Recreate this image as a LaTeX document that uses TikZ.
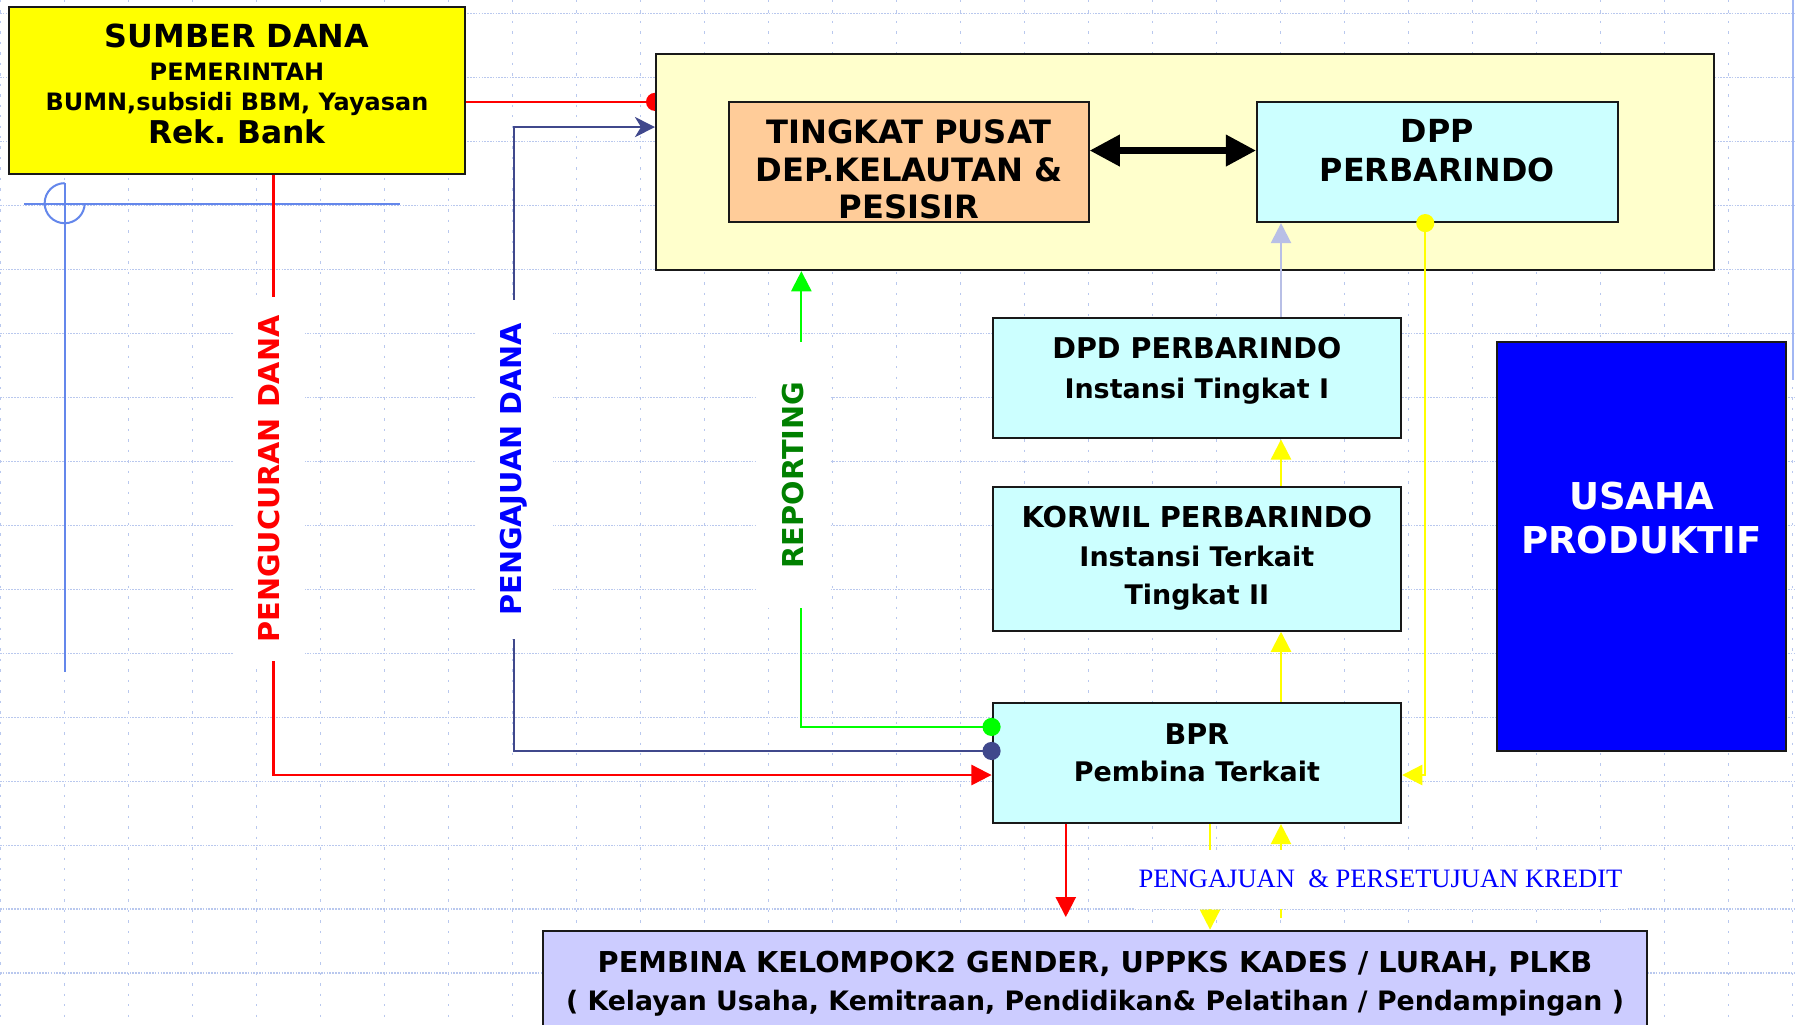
\documentclass[tikz,border=0pt]{standalone}
\usepackage{fontspec}
\setmainfont{DejaVu Sans}
\newfontfamily\serifkredit{Liberation Serif}
\usepackage{xcolor}
\usetikzlibrary{positioning,calc,arrows.meta}
\definecolor{Kuning}{RGB}{255,255,0}
\definecolor{KuningMuda}{RGB}{255,255,204}
\definecolor{Jingga}{RGB}{255,204,153}
\definecolor{Toska}{RGB}{204,255,255}
\definecolor{Ungu}{RGB}{204,204,255}
\definecolor{Biru}{RGB}{0,0,255}
\definecolor{Navy}{RGB}{64,72,140}
\definecolor{Lilak}{RGB}{184,191,230}
\definecolor{Hijau}{RGB}{0,255,0}
\definecolor{HijauTua}{RGB}{0,128,0}
\definecolor{Kisi}{RGB}{185,200,238}
\definecolor{Garis}{RGB}{100,135,235}
\pgfdeclarelayer{back}
\pgfsetlayers{back,main}
\tikzset{bulat/.tip={Circle[length=9pt,width=9pt]},
    segitiga/.tip={Triangle[length=10pt,width=10pt]}}

\begin{document}
\begin{tikzpicture}[x=0.02cm,y=-0.02cm,
    box/.style={draw=black!90,line width=1pt,inner sep=0pt},
    isi/.style={align=center,inner sep=0pt},
    tegak/.style={rotate=90,fill=white,inner ysep=0.44cm,
        font=\bfseries\fontsize{14.3}{16}\selectfont},
    alur/.style={line width=1.1pt}]
    \useasboundingbox (0,0) rectangle (1568,895);
    \clip (0,0) rectangle (1568,895);

    \begin{pgfonlayer}{back}
    \foreach \gx in {0.6,56.5,...,1568}
        \draw[Kisi,line width=0.8pt,dash pattern=on 1.2pt off 4pt] (\gx,0) -- (\gx,895);
    \foreach \gy in {11.7,67.6,...,895}
        \draw[Kisi,line width=0.8pt,dash pattern=on 0.8pt off 0.6pt] (0,\gy) -- (1568,\gy);
    \draw[Garis,line width=1pt] (21,178) -- (349,178);
    \draw[Garis,line width=1pt] (56.5,160) -- (56.5,587);
    \draw[Garis,line width=1pt] (56.5,160) arc[start angle=90,end angle=360,radius=0.35cm];
    \draw[Garis!60,line width=1.2pt] (1566,0) -- (1566,332);
    \end{pgfonlayer}

    \node[box,fill=Kuning,minimum width=7.96cm,minimum height=2.92cm] (sumber) at (207,79) {};
    \node[box,fill=KuningMuda,minimum width=18.48cm,minimum height=3.78cm] (wadah) at (1035,141.5) {};
    \node[box,fill=Jingga,minimum width=6.28cm,minimum height=2.1cm] (pusat) at (794,141.5) {};
    \node[box,fill=Toska,minimum width=6.3cm,minimum height=2.1cm] (dpp) at (1255.5,141.5) {};
    \node[box,fill=Toska,minimum width=7.14cm,minimum height=2.1cm] (dpd) at (1045.5,330.5) {};
    \node[box,fill=Toska,minimum width=7.14cm,minimum height=2.52cm] (korwil) at (1045.5,488) {};
    \node[box,fill=Toska,minimum width=7.14cm,minimum height=2.1cm] (bpr) at (1045.5,666.5) {};
    \node[box,fill=Biru,minimum width=5.04cm,minimum height=7.14cm] (usaha) at (1434,477.5) {};
    \node[box,fill=Ungu,minimum width=19.3cm,minimum height=1.8cm] (pembina) at (956.5,858) {};

    \node[isi,font=\bfseries\fontsize{11.9}{16.5}\selectfont] (sumberT) at (207,73)
        {{\fontsize{15.8}{16.5}\selectfont SUMBER DANA}\\PEMERINTAH\\[-1.7pt]BUMN,subsidi BBM, Yayasan\\{\fontsize{15.6}{16.5}\selectfont Rek.\ Bank}};
    \node[isi,font=\bfseries\fontsize{16}{18.8}\selectfont] (pusatT) at (794,148)
        {TINGKAT PUSAT\\DEP.KELAUTAN \&\\PESISIR};
    \node[isi,font=\bfseries\fontsize{15.8}{19.3}\selectfont] (dppT) at (1255.5,131.5)
        {DPP\\PERBARINDO};
    \node[isi,font=\bfseries\fontsize{13.4}{19.8}\selectfont] (dpdT) at (1045.5,323.8)
        {{\fontsize{14.2}{19.8}\selectfont DPD PERBARINDO}\\Instansi Tingkat I};
    \node[isi,font=\bfseries\fontsize{13.4}{19}\selectfont] (korwilT) at (1045.5,487.8)
        {{\fontsize{14.3}{19}\selectfont KORWIL PERBARINDO}\\Instansi Terkait\\Tingkat II};
    \node[isi,font=\bfseries\fontsize{13.4}{18.8}\selectfont] (bprT) at (1045.5,657.5)
        {{\fontsize{14.2}{18.8}\selectfont BPR}\\Pembina Terkait};
    \node[isi,text=white,font=\bfseries\fontsize{18.4}{22.2}\selectfont] (usahaT) at (1434,452.5)
        {USAHA\\PRODUKTIF};
    \node[isi,font=\bfseries\fontsize{13.3}{18.8}\selectfont] (pembinaT) at (956.5,859.3)
        {{\fontsize{14.3}{18.8}\selectfont PEMBINA KELOMPOK2 GENDER, UPPKS KADES / LURAH, PLKB}\\( Kelayan Usaha, Kemitraan, Pendidikan\& Pelatihan / Pendampingan )};

    \coordinate (xR) at (239,0);
    \coordinate (xB) at (449,0);
    \coordinate (xG) at (700,0);
    \coordinate (xM) at (931,0);
    \coordinate (xD) at (1057,0);
    \coordinate (xA) at (1119,0);
    \coordinate (r1) at ($(sumber.east)+(0,10)$);
    \coordinate (nv) at ($(wadah.west)+(0,-30.5)$);
    \coordinate (ak) at ($(pembina.north)+(0,-10)$);
    \coordinate (am) at ($(pembina.north)+(0,-11)$);

    \begin{pgfonlayer}{back}
    \draw[red,alur,shorten >=-4.5pt,-bulat] (r1) -- (wadah.west |- r1);
    \end{pgfonlayer}
    \draw[red,alur,-segitiga] (sumber.south -| xR) |- ($(bpr.west)+(0,10.5)$);
    \draw[Navy,alur,shorten <=-4.5pt,bulat-{Stealth[length=10pt,width=10pt,inset=3pt]}]
        ($(bpr.west)+(0,-10.5)$) -| (nv -| xB) -- (nv);
    \draw[Hijau,alur,shorten <=-4.5pt,bulat-segitiga] ($(bpr.west)+(0,-31.5)$) -| (wadah.south -| xG);
    \draw[line width=3.3pt,{Triangle[length=15pt,width=15pt]}-{Triangle[length=15pt,width=15pt]}]
        ($(pusat.east)+(0,-10)$) -- ($(dpp.west)+(0,-10)$);
    \draw[Lilak,alur,-segitiga] (dpd.north -| xA) -- (dpp.south -| xA);
    \draw[Kuning,alur,-segitiga] (korwil.north -| xA) -- (dpd.south -| xA);
    \draw[Kuning,alur,-segitiga] (bpr.north -| xA) -- (korwil.south -| xA);
    \draw[Kuning,alur,shorten <=-4.5pt,bulat-segitiga] ($(dpp.south)+(-10.5,0)$) |- ($(bpr.east)+(0,10.5)$);
    \draw[Kuning,alur,-segitiga] (bpr.south -| xD) -- (pembina.north -| xD);
    \draw[Kuning,alur,-segitiga] (ak -| xA) -- (bpr.south -| xA);
    \draw[red,alur,-segitiga] (bpr.south -| xM) -- (am -| xM);

    \node[tegak,text=red,inner xsep=0.32cm] (lblDana) at (235,418.5) {PENGUCURAN DANA};
    \node[tegak,text=Biru,inner xsep=0.4cm] (lblAju) at (449,410) {PENGAJUAN DANA};
    \node[tegak,text=HijauTua,inner xsep=0.7cm] (lblLapor) at (693,415) {REPORTING};
    \node[fill=white,text=Biru,inner xsep=2pt,inner ysep=0.36cm,
        font=\serifkredit\fontsize{13.2}{15}\selectfont] (kredit) at (1206,768)
        {PENGAJUAN\ \ \& PERSETUJUAN KREDIT};
\end{tikzpicture}
\end{document}
